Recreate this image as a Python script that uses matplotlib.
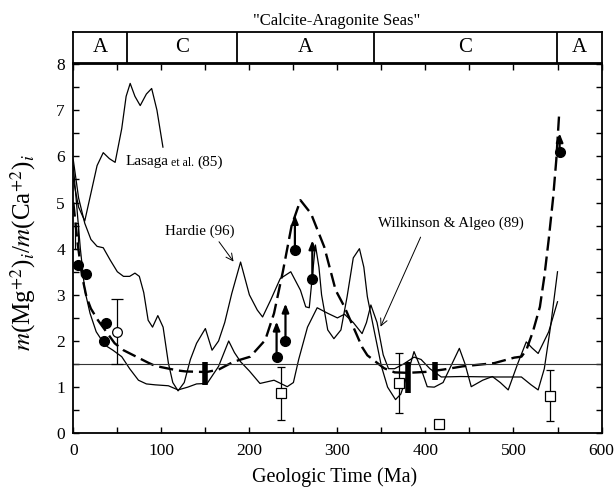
import matplotlib
matplotlib.use("Agg")
import matplotlib.pyplot as plt

plt.rcParams['font.family'] = ['Liberation Serif', 'DejaVu Serif']
plt.rcParams['mathtext.fontset'] = 'stix'

# ---------------- data ----------------
lasaga_x = [0, 6, 13, 20, 27, 34, 41, 47.5, 55, 60, 64.6, 70, 76, 83, 89, 95, 101.8]
lasaga_y = [5.5, 4.9, 4.6, 5.2, 5.8, 6.08, 5.95, 5.87, 6.6, 7.3, 7.58, 7.3, 7.1, 7.35, 7.47, 7.0, 6.2]

hardie_x = [0, 6, 13, 20, 27, 34, 42, 50, 57, 64, 70, 75, 80, 85, 90, 96, 102, 108, 113, 119,
            126, 133, 140, 150, 157.6, 165, 172, 180, 190, 200, 209, 215, 224, 235, 247, 258,
            264, 268, 272, 275, 279, 282, 289, 296, 304, 311, 318, 325, 330, 334, 342, 350,
            357, 366, 372, 380, 387, 395, 402, 410, 420, 430, 438.5, 445, 452, 465, 476, 485,
            494, 505, 514.5, 521, 528, 540, 550]
hardie_y = [5.92, 5.1, 4.55, 4.2, 4.05, 4.02, 3.75, 3.5, 3.4, 3.4, 3.47, 3.4, 3.05, 2.45, 2.3,
            2.55, 2.3, 1.52, 1.1, 0.92, 1.1, 1.6, 1.95, 2.27, 1.8, 2.0, 2.4, 3.03, 3.71, 3.0,
            2.67, 2.52, 2.88, 3.35, 3.5, 3.1, 2.74, 2.72, 3.5, 4.08, 3.6, 3.0, 2.24, 2.05,
            2.24, 2.96, 3.8, 4.0, 3.6, 2.96, 2.2, 1.45, 1.0, 0.73, 0.85, 1.3, 1.77, 1.4, 1.01,
            1.0, 1.1, 1.5, 1.84, 1.5, 1.01, 1.15, 1.23, 1.1, 0.94, 1.52, 1.98, 1.85, 1.73,
            2.2, 2.85]

wa_x = [0, 4, 8, 13, 19, 26, 36, 45, 55, 64, 74, 83, 93, 108, 119, 130, 140, 152, 165, 176.5,
        183, 190, 200, 212, 228, 243, 250, 256, 266, 277, 289, 300, 308, 318, 328, 333, 338,
        345, 352, 358, 365, 375, 387, 395, 405, 418, 440, 480, 509, 520, 528, 535, 542, 550]
wa_y = [5.8, 4.9, 4.0, 3.1, 2.6, 2.2, 1.91, 1.8, 1.66, 1.4, 1.15, 1.07, 1.05, 1.03, 0.94, 1.0,
        1.07, 1.08, 1.45, 2.0, 1.75, 1.55, 1.35, 1.08, 1.15, 1.01, 1.1, 1.6, 2.3, 2.72, 2.6,
        2.5, 2.58, 2.4, 2.16, 2.4, 2.78, 2.4, 1.7, 1.4, 1.4, 1.5, 1.65, 1.6, 1.4, 1.22, 1.23,
        1.22, 1.22, 1.05, 0.94, 1.4, 2.3, 3.5]

dash_x = [0, 5, 10, 15, 20, 28, 47, 57, 85, 93, 119, 128, 146, 152, 165, 182, 201, 218, 228,
          238, 248, 258, 270, 285, 298, 308, 328, 334, 353, 365, 380, 400, 420, 442, 478, 501,
          509, 514.5, 522, 530, 535, 540, 545, 548.6, 552]
dash_y = [5.0, 4.1, 3.4, 2.95, 2.7, 2.45, 1.95, 1.8, 1.53, 1.46, 1.36, 1.34, 1.33, 1.33, 1.38,
          1.55, 1.66, 2.02, 2.6, 3.5, 4.5, 5.05, 4.76, 4.04, 3.1, 2.74, 1.87, 1.69, 1.41, 1.32,
          1.31, 1.33, 1.38, 1.45, 1.52, 1.64, 1.66, 1.8, 2.2, 2.74, 3.39, 4.2, 5.1, 5.92, 6.96]

# filled circles (no arrow)
dot_x = [5.4, 14.8, 37.6, 34.6]
dot_y = [3.64, 3.46, 2.38, 2.0]
# filled circles with up-arrows (minimum values)
adot_x = [230.9, 241, 251.7, 271.5, 552.4]
adot_y = [1.66, 2.0, 3.97, 3.35, 6.1]
adot_top = [2.42, 2.81, 4.73, 4.18, 6.5]

# open circle with error bar
ocirc_x = [50.1]
ocirc_y = [2.2]
ocirc_lo = [1.51]
ocirc_hi = [2.9]

# open squares with error bars
sq_x = [235.4, 370, 541]
sq_y = [0.87, 1.1, 0.81]
sq_lo = [0.29, 0.43, 0.27]
sq_hi = [1.44, 1.75, 1.37]
# open square without error bar
sq2_x = [415]
sq2_y = [0.2]

# solid black range bars
bar_x = [150, 380.4, 410.8]
bar_lo = [1.05, 0.87, 1.15]
bar_hi = [1.55, 1.55, 1.55]

# open range box near present
box_x = [3.3]
box_lo = [4.0]
box_hi = [4.55]

ref_level = 1.5

# calcite / aragonite sea intervals
sea_edges = [0, 61, 186, 342, 549, 600]
sea_labels = ['A', 'C', 'A', 'C', 'A']

x_ticks = [0, 100, 200, 300, 400, 500, 600]
y_ticks = [0, 1, 2, 3, 4, 5, 6, 7, 8]

# ---------------- figure ----------------
fig = plt.figure(figsize=(6.15, 4.91), dpi=100)
ax = fig.add_axes([0.1192, 0.1175, 0.8589, 0.7521])

ax.plot(lasaga_x, lasaga_y, color='black', lw=0.9, solid_joinstyle='round')
ax.plot(hardie_x, hardie_y, color='black', lw=0.9, solid_joinstyle='round')
ax.plot(wa_x, wa_y, color='black', lw=0.9, solid_joinstyle='round')
dl, = ax.plot(dash_x, dash_y, color='black', lw=1.7, solid_joinstyle='round')
dl.set_dashes([6, 2.5])

ax.axhline(ref_level, color='#333333', lw=0.8)

ax.vlines(bar_x, bar_lo, bar_hi, color='black', lw=4)
ax.bar(box_x, [h - l for h, l in zip(box_hi, box_lo)], bottom=box_lo, width=3.5,
       fill=False, edgecolor='black', lw=0.9)

ax.errorbar(sq_x, sq_y, yerr=[[y - l for y, l in zip(sq_y, sq_lo)],
                              [h - y for y, h in zip(sq_y, sq_hi)]],
            fmt='s', ms=6.5, mfc='white', mec='black', mew=0.9, ecolor='black',
            elinewidth=0.9, capsize=3, capthick=0.9, zorder=5)
ax.plot(sq2_x, sq2_y, 's', ms=6.5, mfc='white', mec='black', mew=0.9, zorder=5)

ax.errorbar(ocirc_x, ocirc_y, yerr=[[y - l for y, l in zip(ocirc_y, ocirc_lo)],
                                    [h - y for y, h in zip(ocirc_y, ocirc_hi)]],
            fmt='o', ms=7, mfc='white', mec='black', mew=0.9, ecolor='black',
            elinewidth=0.9, capsize=4, capthick=0.9, zorder=5)

ax.plot(dot_x, dot_y, 'o', ms=7, color='black', zorder=6)
ax.plot(adot_x, adot_y, 'o', ms=7, color='black', zorder=6)
for x, y, t in zip(adot_x, adot_y, adot_top):
    ax.annotate('', xy=(x, t), xytext=(x, y),
                arrowprops=dict(arrowstyle='-|>,head_length=0.5,head_width=0.2',
                                color='black', lw=1.6, shrinkA=0, shrinkB=0), zorder=6)

# labels
ax.text(59.7, 5.88, 'Lasaga', fontsize=11, va='center', ha='left')
ax.text(111.3, 5.86, 'et al.', fontsize=8.5, va='center', ha='left')
ax.text(140.5, 5.88, '(85)', fontsize=11, va='center', ha='left')
ax.text(104.4, 4.37, 'Hardie (96)', fontsize=10.8, va='center', ha='left')
ax.annotate('', xy=(182, 3.72), xytext=(165.5, 4.15),
            arrowprops=dict(arrowstyle='->,head_length=0.5,head_width=0.25',
                            color='black', lw=0.7, shrinkA=0, shrinkB=0))
ax.text(346, 4.54, 'Wilkinson & Algeo (89)', fontsize=10.8, va='center', ha='left')
ax.annotate('', xy=(349, 2.31), xytext=(394.5, 4.25),
            arrowprops=dict(arrowstyle='->,head_length=0.5,head_width=0.25',
                            color='black', lw=0.7, shrinkA=0, shrinkB=0))

ax.set_xlim(0, 600)
ax.set_ylim(0, 8)
ax.set_xticks(x_ticks)
ax.set_yticks(y_ticks)
ax.set_xticks([50, 150, 250, 350, 450, 550], minor=True)
ax.set_yticks([0.5 + i for i in range(8)], minor=True)
ax.tick_params(which='both', direction='in', top=True, right=True, length=4.5,
               width=1.0, labelsize=12.5)
ax.tick_params(axis='x', pad=7)
ax.tick_params(axis='y', pad=6)
for s in ax.spines.values():
    s.set_linewidth(1.3)

ax.set_xlabel('Geologic Time (Ma)', fontsize=14.5)
ax.xaxis.set_label_coords(0.495, -0.118)
ax.xaxis.label.set_va('center')
ax.set_ylabel(r'$m$(Mg$^{+2}$)$_i$/$m$(Ca$^{+2}$)$_i$', fontsize=18)
ax.yaxis.set_label_coords(-0.095, 0.49)
ax.yaxis.label.set_va('center')

# top band
bx = fig.add_axes([0.1192, 0.8710, 0.8589, 0.0645])
bx.set_xlim(0, 600)
bx.set_ylim(0, 1)
bx.set_xticks([])
bx.set_yticks([])
for s in bx.spines.values():
    s.set_linewidth(1.3)
for e in sea_edges[1:-1]:
    bx.axvline(e, color='black', lw=1.3)
for i, lab in enumerate(sea_labels):
    bx.text((sea_edges[i] + sea_edges[i + 1]) / 2, 0.5, lab, ha='center', va='center',
            fontsize=15)

fig.text(0.548, 0.958, '"Calcite-Aragonite Seas"', ha='center', va='center', fontsize=12)

fig.savefig('out.png', dpi=100)
